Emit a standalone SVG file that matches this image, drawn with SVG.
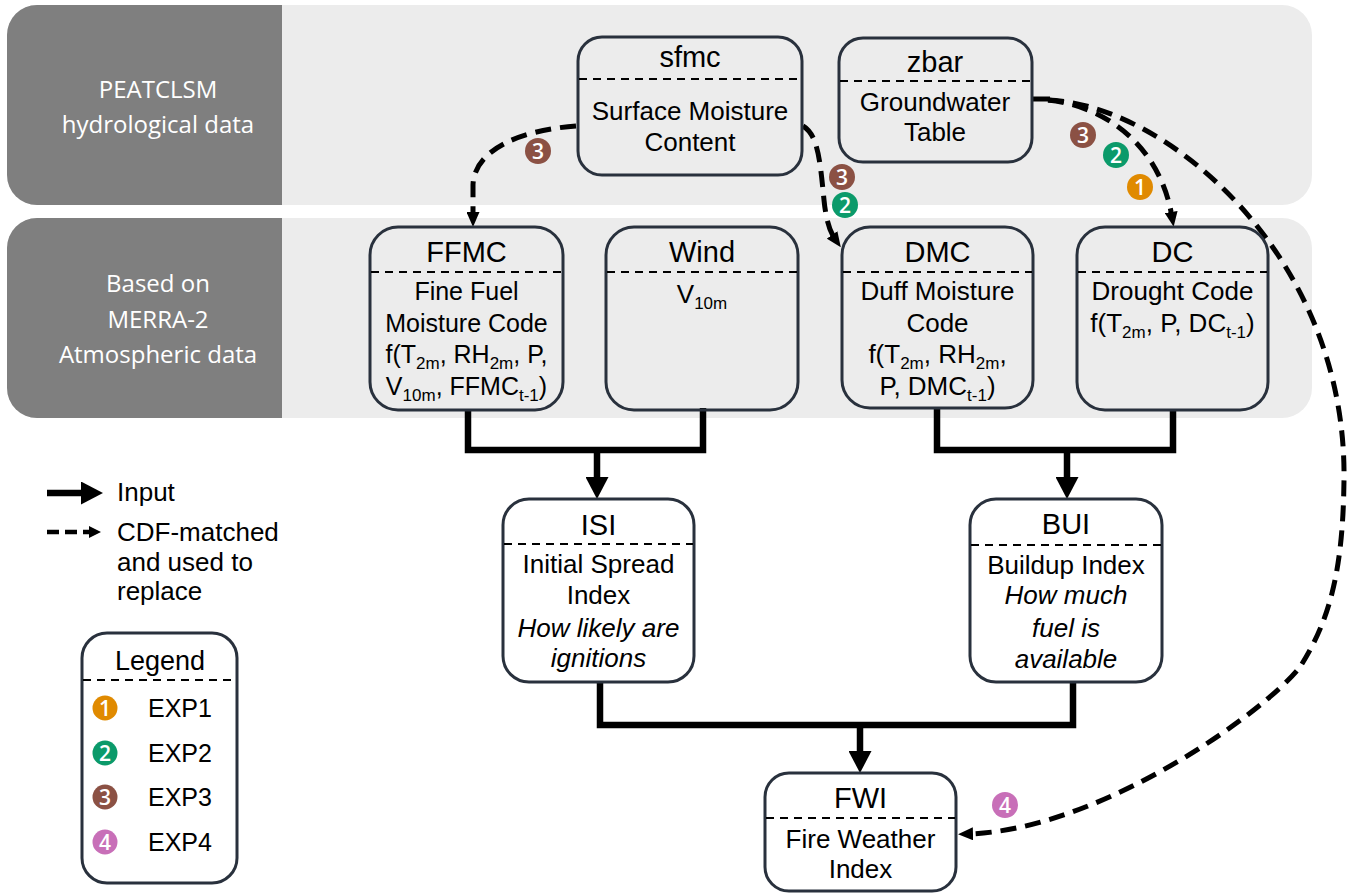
<svg xmlns="http://www.w3.org/2000/svg" width="1349" height="894" viewBox="0 0 1349 894">
<defs>
<style>
.band{fill:#ececec}
.dark{fill:#7f7f7f}
.blabel{font-family:"Open Sans","Noto Sans",sans-serif;font-size:24px;fill:#ffffff;text-anchor:middle}
.box{fill:none;stroke:#29313d;stroke-width:3}
.wbox{fill:#ffffff;stroke:#29313d;stroke-width:3}
.div{stroke:#000;stroke-width:2;stroke-dasharray:8 6}
.title{font-family:"Liberation Sans",Arial,sans-serif;font-size:29px;fill:#000;text-anchor:middle}
.body{font-family:"Liberation Sans",Arial,sans-serif;font-size:26px;fill:#000;text-anchor:middle}
.small{font-size:25px}
.it{font-style:italic}
.sub{font-size:17px}
.thick{fill:none;stroke:#000;stroke-width:6.5;stroke-linejoin:miter}
.dash{fill:none;stroke:#000;stroke-width:5;stroke-dasharray:16 9}
.leg{font-family:"Liberation Sans",Arial,sans-serif;font-size:26px;fill:#000}
.exp{font-family:"Liberation Sans",Arial,sans-serif;font-size:25px;fill:#000}
.bnum{font-family:"Open Sans","Noto Sans",sans-serif;font-size:21px;font-weight:600;fill:#fff;text-anchor:middle}
.c1{fill:#e08a00}.c2{fill:#0b9a6a}.c3{fill:#8b5144}.c4{fill:#c86fb8}
</style>
<marker id="big" markerUnits="userSpaceOnUse" viewBox="0 0 22 23" refX="7" refY="11.5" markerWidth="22" markerHeight="23" orient="auto">
<path d="M0,0 L22,11.5 L0,23 Z" fill="#000"/>
</marker>
<marker id="small" markerUnits="userSpaceOnUse" viewBox="0 0 15 13" refX="5" refY="6.5" markerWidth="15" markerHeight="13" orient="auto">
<path d="M0,0 L15,6.5 L0,13 Z" fill="#000"/>
</marker>
</defs>
<rect width="1349" height="894" fill="#ffffff"/>

<g id="band-peatclsm">
<rect class="band" x="7" y="5" width="1305" height="200" rx="30"/>
<path class="dark" d="M282,5 H37 A30,30 0 0 0 7,35 V175 A30,30 0 0 0 37,205 H282 Z"/>
<text class="blabel" x="158" y="98">PEATCLSM</text>
<text class="blabel" x="158" y="133">hydrological data</text>
</g>
<g id="band-merra">
<rect class="band" x="7" y="218" width="1305" height="200" rx="30"/>
<path class="dark" d="M282,218 H37 A30,30 0 0 0 7,248 V388 A30,30 0 0 0 37,418 H282 Z"/>
<text class="blabel" x="158" y="292">Based on</text>
<text class="blabel" x="158" y="328">MERRA-2</text>
<text class="blabel" x="158" y="363">Atmospheric data</text>
</g>

<g id="connectors">
<path class="thick" d="M468,410 V450 H703 V408"/>
<path class="thick" d="M597,450 V484" marker-end="url(#big)"/>
<path class="thick" d="M937,408 V450 H1173 V410"/>
<path class="thick" d="M1067,450 V484" marker-end="url(#big)"/>
<path class="thick" d="M600,682 V725 H1073 V682"/>
<path class="thick" d="M860,725 V758" marker-end="url(#big)"/>
<path class="dash" d="M576,126 C520,130 474,150 473,185 L473,217" marker-end="url(#small)"/>
<path class="dash" d="M803,126 C818,135 820,160 824,200 C826,220 830,232 835,239" marker-end="url(#small)"/>
<path class="thick" style="stroke-width:5" d="M1032,99 H1050"/>
<path class="dash" d="M1048,100 C1105,106 1160,145 1172,217" marker-end="url(#small)"/>
<path class="dash" d="M1048,100 C1165,104 1347,255 1344,480 C1343,570 1330,620 1300,667 C1265,712 1100,830 968,834" marker-end="url(#small)"/>
</g>

<g id="badges">
<circle class="c3" cx="538" cy="151" r="13"/><text class="bnum" x="538" y="158.5">3</text>
<circle class="c3" cx="842" cy="177" r="13"/><text class="bnum" x="842" y="184.5">3</text>
<circle class="c2" cx="845" cy="205" r="13"/><text class="bnum" x="845" y="212.5">2</text>
<circle class="c3" cx="1083" cy="135" r="13"/><text class="bnum" x="1083" y="142.5">3</text>
<circle class="c2" cx="1116" cy="155" r="13"/><text class="bnum" x="1116" y="162.5">2</text>
<circle class="c1" cx="1140" cy="187" r="13"/><text class="bnum" x="1140" y="194.5">1</text>
<circle class="c4" cx="1005" cy="805" r="13"/><text class="bnum" x="1005" y="812.5">4</text>
</g>

<g id="node-sfmc">
<rect class="box" x="578" y="37" width="224" height="138" rx="24"/>
<line class="div" x1="579" y1="79" x2="801" y2="79"/>
<text class="title" x="690" y="67">sfmc</text>
<text class="body" x="690" y="120">Surface Moisture</text>
<text class="body" x="690" y="151">Content</text>
</g>
<g id="node-zbar">
<rect class="box" x="839" y="38" width="193" height="124" rx="24"/>
<line class="div" x1="840" y1="81" x2="1031" y2="81"/>
<text class="title" x="935" y="72">zbar</text>
<text class="body" x="935" y="111">Groundwater</text>
<text class="body" x="935" y="141">Table</text>
</g>

<g id="node-ffmc">
<rect class="box" x="370" y="227" width="193" height="183" rx="28"/>
<line class="div" x1="371" y1="272" x2="562" y2="272"/>
<text class="title" x="466.5" y="262">FFMC</text>
<text class="body small" x="466.5" y="300">Fine Fuel</text>
<text class="body small" x="466.5" y="332">Moisture Code</text>
<text class="body small" x="466.5" y="363">f(T<tspan class="sub" dy="6">2m</tspan><tspan dy="-6">, RH</tspan><tspan class="sub" dy="6">2m</tspan><tspan dy="-6">, P,</tspan></text>
<text class="body small" x="466.5" y="395">V<tspan class="sub" dy="6">10m</tspan><tspan dy="-6">, FFMC</tspan><tspan class="sub" dy="6">t-1</tspan><tspan dy="-6">)</tspan></text>
</g>
<g id="node-wind">
<rect class="box" x="606" y="227" width="192" height="183" rx="28"/>
<line class="div" x1="607" y1="272" x2="797" y2="272"/>
<text class="title" x="702" y="262">Wind</text>
<text class="body" x="702" y="303">V<tspan class="sub" dy="6">10m</tspan></text>
</g>
<g id="node-dmc">
<rect class="box" x="842" y="227" width="191" height="181" rx="28"/>
<line class="div" x1="843" y1="272" x2="1032" y2="272"/>
<text class="title" x="937.5" y="262">DMC</text>
<text class="body" x="937.5" y="300">Duff Moisture</text>
<text class="body" x="937.5" y="332">Code</text>
<text class="body" x="937.5" y="363">f(T<tspan class="sub" dy="6">2m</tspan><tspan dy="-6">, RH</tspan><tspan class="sub" dy="6">2m</tspan><tspan dy="-6">,</tspan></text>
<text class="body" x="937.5" y="395">P, DMC<tspan class="sub" dy="6">t-1</tspan><tspan dy="-6">)</tspan></text>
</g>
<g id="node-dc">
<rect class="box" x="1077" y="227" width="191" height="183" rx="28"/>
<line class="div" x1="1078" y1="272" x2="1267" y2="272"/>
<text class="title" x="1172.5" y="262">DC</text>
<text class="body" x="1172.5" y="300">Drought Code</text>
<text class="body" x="1172.5" y="332">f(T<tspan class="sub" dy="6">2m</tspan><tspan dy="-6">, P, DC</tspan><tspan class="sub" dy="6">t-1</tspan><tspan dy="-6">)</tspan></text>
</g>

<g id="node-isi">
<rect class="wbox" x="503" y="499" width="191" height="183" rx="26"/>
<line class="div" x1="504" y1="544" x2="693" y2="544"/>
<text class="title" x="598.5" y="535">ISI</text>
<text class="body" x="598.5" y="573">Initial Spread</text>
<text class="body" x="598.5" y="604">Index</text>
<text class="body it" x="598.5" y="637">How likely are</text>
<text class="body it" x="598.5" y="667">ignitions</text>
</g>
<g id="node-bui">
<rect class="wbox" x="970" y="499" width="192" height="183" rx="26"/>
<line class="div" x1="971" y1="545" x2="1161" y2="545"/>
<text class="title" x="1066" y="534">BUI</text>
<text class="body" x="1066" y="574">Buildup Index</text>
<text class="body it" x="1066" y="604">How much</text>
<text class="body it" x="1066" y="637">fuel is</text>
<text class="body it" x="1066" y="668">available</text>
</g>
<g id="node-fwi">
<rect class="wbox" x="765" y="773" width="191" height="118" rx="24"/>
<line class="div" x1="766" y1="818" x2="955" y2="818"/>
<text class="title" x="860.5" y="808">FWI</text>
<text class="body" x="860.5" y="848">Fire Weather</text>
<text class="body" x="860.5" y="878">Index</text>
</g>

<g id="key">
<path class="thick" d="M47,493 H88" marker-end="url(#big)"/>
<text class="leg" x="117" y="501">Input</text>
<path fill="none" stroke="#000" stroke-width="4.5" stroke-dasharray="12 6" d="M47,532 H90"/>
<path d="M89,526 L101,532 L89,538 Z" fill="#000"/>
<text class="leg" x="117" y="541">CDF-matched</text>
<text class="leg" x="117" y="571">and used to</text>
<text class="leg" x="117" y="600">replace</text>
</g>

<g id="legend">
<rect class="wbox" x="82" y="633" width="155" height="250" rx="25"/>
<line class="div" x1="83" y1="680" x2="236" y2="680"/>
<text class="title" x="160" y="670" style="font-size:27px">Legend</text>
<circle class="c1" cx="105" cy="708" r="12.5"/><text class="bnum" x="105" y="715.5">1</text>
<text class="exp" x="148" y="717">EXP1</text>
<circle class="c2" cx="105" cy="753" r="12.5"/><text class="bnum" x="105" y="760.5">2</text>
<text class="exp" x="148" y="762">EXP2</text>
<circle class="c3" cx="105" cy="797" r="12.5"/><text class="bnum" x="105" y="804.5">3</text>
<text class="exp" x="148" y="806">EXP3</text>
<circle class="c4" cx="105" cy="842" r="12.5"/><text class="bnum" x="105" y="849.5">4</text>
<text class="exp" x="148" y="851">EXP4</text>
</g>
</svg>
